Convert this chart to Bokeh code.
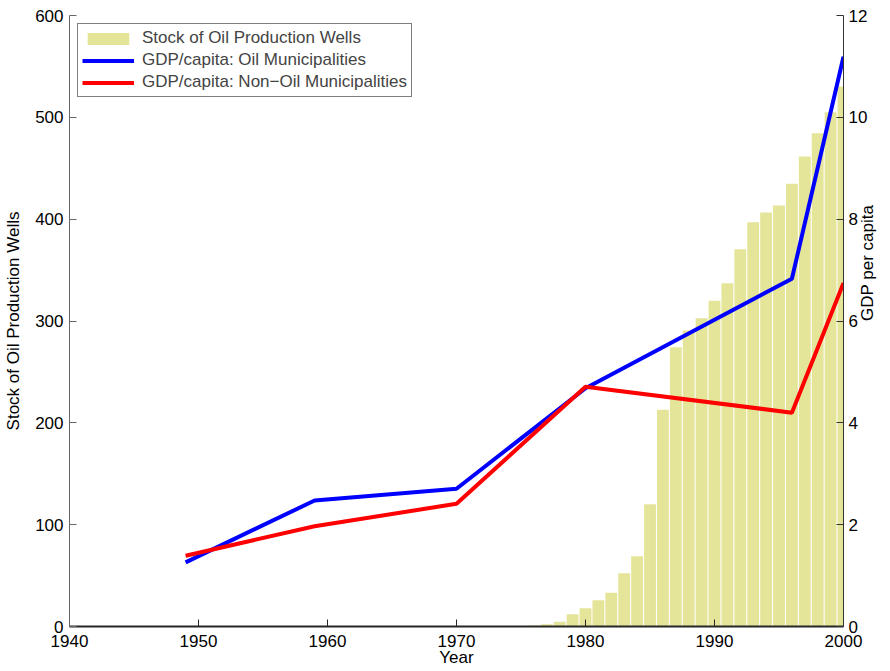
from math import pi
from bokeh.plotting import figure
from bokeh.models import Range1d, LinearAxis, Legend, LegendItem, FixedTicker
from bokeh.embed import file_html
from bokeh.resources import INLINE

# ---- data ----
well_years = list(range(1975, 2001))
wells = [0.3, 1.0, 2.3, 4.6, 12.1, 18.0, 25.9, 33.1, 52.3, 69.0, 120.1, 212.8, 274.3,
         290.7, 302.8, 319.8, 337.0, 370.5, 397.0, 406.6, 413.4, 434.7, 461.6, 484.4,
         505.0, 530.3]

gdp_years = [1949, 1959, 1970, 1980, 1996, 2000]
gdp_oil = [1.26, 2.475, 2.705, 4.68, 6.83, 11.19]
gdp_nonoil = [1.39, 1.97, 2.41, 4.71, 4.20, 6.745]

x_ticks = [1940, 1950, 1960, 1970, 1980, 1990, 2000]
left_ticks = [0, 100, 200, 300, 400, 500, 600]
right_ticks = [0, 2, 4, 6, 8, 10, 12]

FONT = "Liberation Sans"
FS = "17px"

p = figure(width=890, height=671, x_range=Range1d(1940, 2000), y_range=Range1d(0, 600),
           output_backend="svg", toolbar_location=None,
           min_border_left=69, min_border_right=47, min_border_top=15, min_border_bottom=45)
p.grid.visible = False
p.outline_line_color = None
p.background_fill_color = "white"

p.extra_y_ranges = {"gdp": Range1d(0, 12)}

bars = p.vbar(x=well_years, top=wells, width=0.92, fill_color="#e5e59a", line_color=None)
l_oil = p.line(gdp_years, gdp_oil, y_range_name="gdp", line_width=4, line_color="#0000ff")
l_non = p.line(gdp_years, gdp_nonoil, y_range_name="gdp", line_width=4, line_color="#ff0000")

def style(ax, color, width):
    ax.major_tick_in = 7
    ax.major_tick_out = 0
    ax.minor_tick_in = 0
    ax.minor_tick_out = 0
    ax.axis_line_color = color
    ax.axis_line_width = width
    ax.major_tick_line_color = color
    ax.major_label_text_font = FONT
    ax.major_label_text_font_size = FS
    ax.major_label_text_color = "#000000"
    ax.axis_label_text_font = FONT
    ax.axis_label_text_font_size = FS
    ax.axis_label_text_font_style = "normal"
    ax.axis_label_text_color = "#000000"

xa = p.xaxis[0]
xa.ticker = FixedTicker(ticks=x_ticks)
style(xa, "#262626", 2)
xa.axis_label = "Year"
xa.major_label_standoff = 8
xa.axis_label_standoff = -2

ya = p.yaxis[0]
ya.ticker = FixedTicker(ticks=left_ticks)
style(ya, "#666666", 1)
ya.axis_label = "Stock of Oil Production Wells"
ya.major_label_standoff = 6
ya.axis_label_standoff = 9

ra = LinearAxis(y_range_name="gdp", ticker=FixedTicker(ticks=right_ticks))
style(ra, "#333333", 1)
ra.major_label_standoff = 5
ra.axis_label = "GDP per capita"
ra.axis_label_standoff = -3
if hasattr(ra, "axis_label_orientation"):
    ra.axis_label_orientation = pi / 2
p.add_layout(ra, "right")

legend = Legend(items=[
    LegendItem(label="Stock of Oil Production Wells", renderers=[bars]),
    LegendItem(label="GDP/capita: Oil Municipalities", renderers=[l_oil]),
    LegendItem(label="GDP/capita: Non\u2212Oil Municipalities", renderers=[l_non]),
], location="top_left")
legend.margin = 8
legend.padding = 4
legend.spacing = 2
legend.glyph_width = 52
legend.glyph_height = 15
legend.label_height = 15
legend.label_standoff = 8
legend.label_text_font = FONT
legend.label_text_font_size = FS
legend.border_line_color = "black"
legend.border_line_width = 1
legend.background_fill_alpha = 1.0
p.add_layout(legend)

open("out.html", "w").write(file_html(p, INLINE))
